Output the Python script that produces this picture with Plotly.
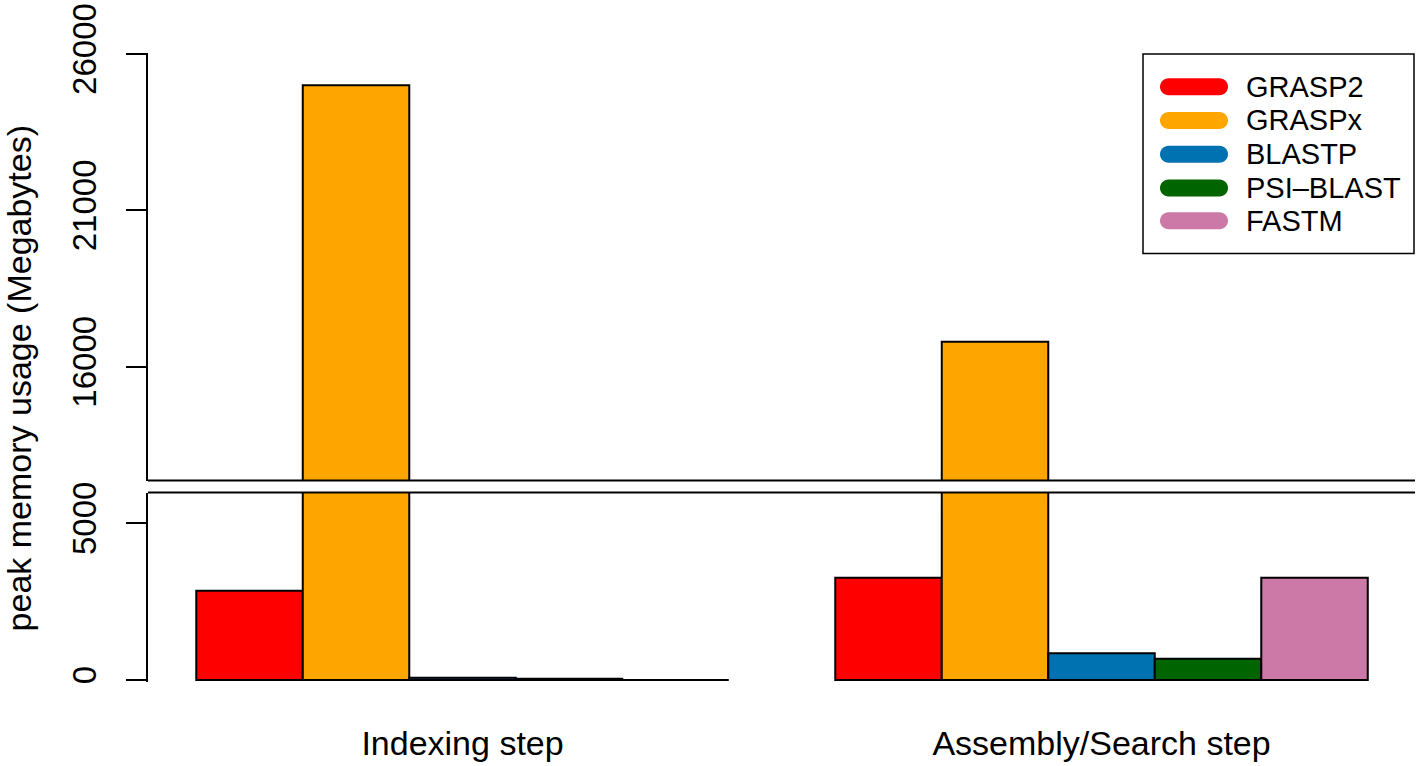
import plotly.graph_objects as go
from plotly.subplots import make_subplots

categories = ["Indexing step", "Assembly/Search step"]
series_names = ["GRASP2", "GRASPx", "BLASTP", "PSI\u2013BLAST", "FASTM"]
grasp2 = [2850, 3260]
graspx = [25000, 16800]
blastp = [70, 850]
psiblast = [40, 680]
fastm = [0, 3260]
colors = ["#FF0000", "#FFA500", "#0072B2", "#006400", "#CC79A7"]

lower_ticks = [0, 5000]
upper_ticks = [16000, 21000, 26000]
lower_range = [-63, 5980]
upper_range = [12360, 26030]

series = [grasp2, graspx, blastp, psiblast, fastm]
FONT = "Liberation Sans, Arial, Helvetica, sans-serif"

# pixel layout
L, R, T, B = 148, 1415, 48, 682
W, H = 1418, 766
PW, PH = R - L, B - T

def px_x(p):
    return (p - L) / PW

def px_y(p):
    return (B - p) / PH

fig = make_subplots(rows=2, cols=1, shared_xaxes=True)

for name, vals, col in zip(series_names, series, colors):
    for row in (1, 2):
        fig.add_trace(go.Bar(x=categories, y=vals, name=name,
                             marker=dict(color=col, line=dict(color="black", width=2)),
                             showlegend=False, offsetgroup=name), row=row, col=1)

fig.update_layout(
    width=W, height=H,
    margin=dict(l=L, r=W - R, t=T, b=H - B),
    plot_bgcolor="white", paper_bgcolor="white",
    barmode="group", bargap=1/6, bargroupgap=0,
    font=dict(family=FONT, size=33, color="black"),
    showlegend=False,
)

xr = [-0.4922, 1.4906]
fig.update_xaxes(range=xr, showline=False, showgrid=False, zeroline=False, ticks="")
fig.update_xaxes(showticklabels=False, row=1, col=1)
fig.update_xaxes(showticklabels=True, tickfont=dict(size=34), ticklabelstandoff=38, row=2, col=1)

common_y = dict(showgrid=False, zeroline=False, showline=True, linecolor="black", linewidth=2,
                ticks="outside", ticklen=20, tickwidth=2, tickcolor="black",
                tickangle=-90, tickfont=dict(size=33), ticklabelstandoff=17,
                ticklabeloverflow="allow")
fig.update_yaxes(range=upper_range, tickvals=upper_ticks, ticktext=[str(v) for v in upper_ticks],
                 domain=[px_y(479), 1], row=1, col=1, **common_y)
fig.update_yaxes(range=lower_range, tickvals=lower_ticks, ticktext=[str(v) for v in lower_ticks],
                 domain=[0, px_y(491)], row=2, col=1, **common_y)

shapes = []
# axis break lines
for yy in (479, 491):
    shapes.append(dict(type="line", xref="paper", yref="paper", x0=0, x1=1,
                       y0=px_y(yy), y1=px_y(yy), line=dict(color="black", width=2), layer="above"))
# legend box
shapes.append(dict(type="rect", xref="paper", yref="paper", x0=px_x(1143), x1=px_x(1414),
                   y0=px_y(250), y1=px_y(49), line=dict(color="black", width=1.5),
                   fillcolor="white", layer="above"))
annotations = []
key_y = [82, 116, 150, 184, 217]
k = 0.5523 * 8.5
hw, r = 25.5, 8.5
path = (f"M {-hw},{-r} L {hw},{-r} C {hw+k},{-r} {hw+r},{-k} {hw+r},0 "
        f"C {hw+r},{k} {hw+k},{r} {hw},{r} L {-hw},{r} "
        f"C {-hw-k},{r} {-hw-r},{k} {-hw-r},0 C {-hw-r},{-k} {-hw-k},{-r} {-hw},{-r} Z")
for name, col, ky in zip(series_names, colors, key_y):
    shapes.append(dict(type="path", xref="paper", yref="paper", xsizemode="pixel", ysizemode="pixel",
                       xanchor=px_x(1194), yanchor=px_y(ky), path=path,
                       fillcolor=col, line=dict(width=0), layer="above"))
    annotations.append(dict(xref="paper", yref="paper", x=px_x(1244), y=px_y(ky),
                            xanchor="left", yanchor="middle", text=name, showarrow=False,
                            font=dict(size=29, family=FONT, color="black")))
# y axis title
annotations.append(dict(xref="paper", yref="paper", x=px_x(19), y=px_y(376),
                        xanchor="center", yanchor="middle", text="peak memory usage (Megabytes)",
                        textangle=-90, showarrow=False, font=dict(size=34, family=FONT, color="black")))
fig.update_layout(shapes=shapes, annotations=annotations)

fig.write_html("out.html", config={"displayModeBar": False},
               post_script="document.body.style.margin='0';document.body.style.overflow='hidden';")
